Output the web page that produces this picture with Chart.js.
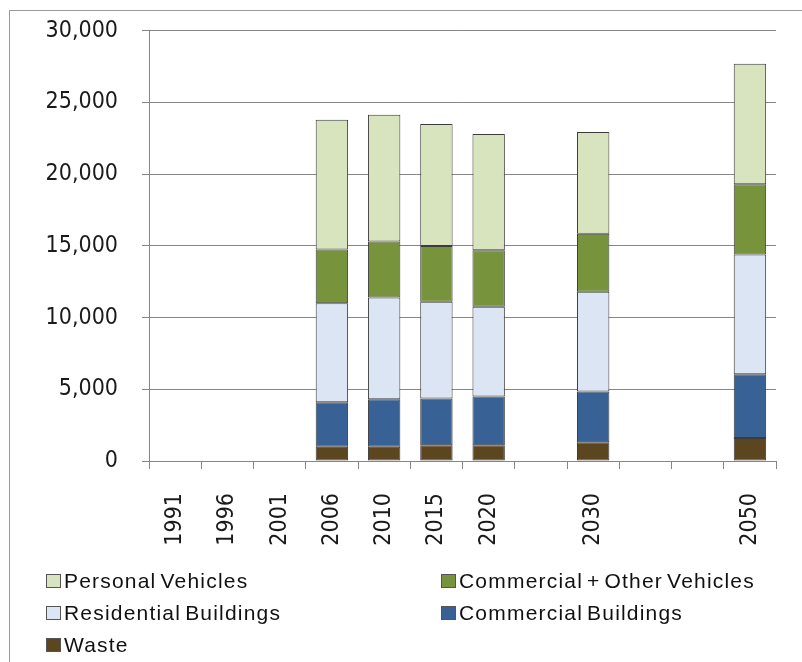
<!DOCTYPE html>
<html>
<head>
<meta charset="utf-8">
<script src="https://cdn.jsdelivr.net/npm/chart.js@4.4.1/dist/chart.umd.min.js"></script>
<style>
  html, body { margin: 0; padding: 0; background: #fff; overflow: hidden; }
  #wrap { position: relative; width: 802px; height: 662px; overflow: hidden; }
  #myChart { position: absolute; left: 0; top: -7px; }
  #frame { position: absolute; left: 9px; top: 10px; width: 900px; height: 700px;
           border: 1px solid #9a9a9a; pointer-events: none; }
  #legend { position: absolute; left: 46px; top: 572px; display: grid;
            grid-template-columns: 395px auto; grid-auto-rows: 32px;
            font-family: 'Liberation Sans', Arial, sans-serif; font-size: 21px;
            letter-spacing: 1.2px; word-spacing: -3px; color: #111; }
  #legend div { display: flex; align-items: center; height: 18px; white-space: nowrap; }
  #legend span.box { display: inline-block; width: 15px; height: 14px; border: 1px solid #555;
                     margin-right: 3px; box-sizing: border-box; }
</style>
</head>
<body>
<div id="wrap">
  <canvas id="myChart" width="802" height="662"></canvas>
  <div id="frame"></div>
  <div id="legend"></div>
</div>
<script>
// categories (blank slots keep the spacing between years)
const years = ['1991', '1996', '2001', '2006', '2010', '2015', '2020', '', '2030', '', '', '2050'];

// series values
const waste = [null, null, null, 1000, 1000, 1100, 1100, null, 1300, null, null, 1600];
const commercialBuildings = [null, null, null, 3100, 3300, 3250, 3400, null, 3550, null, null, 4450];
const residentialBuildings = [null, null, null, 6900, 7100, 6750, 6250, null, 6950, null, null, 8350];
const commercialVehicles = [null, null, null, 3750, 3900, 3900, 3950, null, 4050, null, null, 4900];
const personalVehicles = [null, null, null, 9050, 8850, 8500, 8100, null, 7100, null, null, 8400];

const yTicks = [0, 5000, 10000, 15000, 20000, 25000, 30000];

const tickFamily = "'DejaVu Sans Condensed', 'Liberation Sans Narrow', sans-serif";

function bar(label, data, color) {
    return {
        label: label,
        data: data,
        backgroundColor: color,
        borderColor: '#3c3c3c',
        borderWidth: 1,
        borderSkipped: false,
        barPercentage: 0.62,
        categoryPercentage: 1.0
    };
}

const datasets = [
    bar('Waste', waste, '#5c4620'),
    bar('Commercial Buildings', commercialBuildings, '#386295'),
    bar('Residential Buildings', residentialBuildings, '#dbe5f3'),
    bar('Commercial + Other Vehicles', commercialVehicles, '#77933c'),
    bar('Personal Vehicles', personalVehicles, '#d7e4bd')
];

// Creating chart (canvas is shifted up 7px so the plot top lands where the original's does)
const ctx = document.getElementById('myChart').getContext('2d');
const myChart = new Chart(ctx, {
    type: 'bar',
    data: { labels: years, datasets: datasets },
    options: {
        responsive: false,
        animation: false,
        layout: { padding: { left: 10, top: 12, right: 11, bottom: 104 } },
        plugins: { legend: { display: false }, tooltip: { enabled: false } },
        scales: {
            x: {
                stacked: true,
                grid: { drawOnChartArea: false, drawTicks: true, tickLength: 8, color: '#868686', offset: true },
                border: { color: '#868686', width: 1 },
                ticks: { color: '#1a1a1a', font: { family: tickFamily, size: 23 },
                         minRotation: 90, maxRotation: 90, autoSkip: false, padding: 24 },
                afterFit: function (s) { s.height = 90; }
            },
            y: {
                stacked: true,
                min: 0,
                max: 30000,
                afterBuildTicks: function (s) { s.ticks = yTicks.map(v => ({ value: v })); },
                grid: { color: '#868686', tickLength: 7 },
                border: { color: '#868686', width: 1 },
                ticks: { color: '#1a1a1a', font: { family: tickFamily, size: 23 }, padding: 24,
                         callback: v => v.toLocaleString('en-US') },
                afterFit: function (s) { s.width = 139; }
            }
        }
    }
});

// legend laid out in two columns like the original
const legendOrder = [
    ['Personal Vehicles', '#d7e4bd'],
    ['Commercial + Other Vehicles', '#77933c'],
    ['Residential Buildings', '#dbe5f3'],
    ['Commercial Buildings', '#386295'],
    ['Waste', '#5c4620']
];
const legend = document.getElementById('legend');
legendOrder.forEach(function (item) {
    const d = document.createElement('div');
    const b = document.createElement('span');
    b.className = 'box';
    b.style.background = item[1];
    d.appendChild(b);
    d.appendChild(document.createTextNode(item[0]));
    legend.appendChild(d);
});
</script>
</body>
</html>
